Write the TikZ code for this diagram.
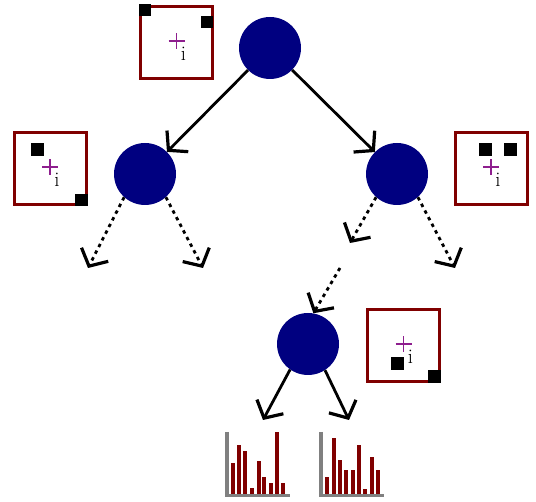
\documentclass[tikz,border=0pt]{standalone}
\usepackage{xcolor}
\usepackage{tikz}
\usetikzlibrary{arrows.meta}

\definecolor{navy}{HTML}{000080}
\definecolor{maroon}{HTML}{800000}
\definecolor{crosscol}{HTML}{8E1E8E}

\tikzset{
  tree node/.style = {circle, fill = navy, minimum size = 62pt, inner sep = 0pt},
  split box/.style = {draw = maroon, line width = 3pt, minimum size = 72pt, inner sep = 0pt},
  arr/.style = {line width = 2.8pt, -{Straight Barb[length = 13pt, width = 30pt, line width = 3.2pt]}},
  dotarr/.style = {arr, dash pattern = on 3.5pt off 4pt},
  cross/.style = {draw = crosscol, line width = 1.2pt},
  index/.style = {inner sep = 0pt, font = \huge},
  axis/.style = {draw = gray, line width = 3.2pt},
  bar/.style = {draw = maroon, line width = 3.4pt}
}

\begin{document}
\begin{tikzpicture}[x = 1pt, y = -1pt]
\useasboundingbox (0, 0) rectangle (536, 502);

% tree nodes
\node [tree node] (root) at (270, 48) {};
\node [tree node] (lchild) at (145, 174) {};
\node [tree node] (rchild) at (397, 174) {};
\node [tree node] (bchild) at (308, 344) {};

\draw [arr] (root) -- (lchild);
\draw [arr] (root) -- (rchild);

% open branches
\coordinate (ll) at (88, 268);
\coordinate (lr) at (203, 268);
\coordinate (rl) at (350, 243);
\coordinate (rr) at (455, 268);
\coordinate (mid) at (340, 268);
\draw [dotarr] (lchild.228) -- (ll);
\draw [dotarr] (lchild.312) -- (lr);
\draw [dotarr] (rchild.228) -- (rl);
\draw [dotarr] (rchild.312) -- (rr);
\draw [dotarr] (mid) -- (bchild.80);

% leaves
\coordinate (bl) at (263, 420);
\coordinate (br) at (349, 420);
\draw [arr] (bchild.235) -- (bl);
\draw [arr] (bchild.303) -- (br);

% split boxes
\node [split box] (box1) at (176.5, 42.5) {};
\node [split box] (box2) at (50, 168.5) {};
\node [split box] (box3) at (491, 168.5) {};
\node [split box] (box4) at (403.5, 345.5) {};

\foreach \b in {box1, box2, box3, box4} {
  \draw [cross] ([shift = {(-8pt, 1.5pt)}]\b.center) -- ([shift = {(8pt, 1.5pt)}]\b.center)
                ([shift = {(0pt, -6.5pt)}]\b.center) -- ([shift = {(0pt, 9.5pt)}]\b.center);
  \node [index] (\b-i) at ([shift = {(7pt, -11pt)}]\b.center) {i};
}

\fill (139, 4) rectangle (151, 16);
\fill (201, 16) rectangle (213, 28);
\fill (31, 143) rectangle (44, 156);
\fill (75, 194) rectangle (88, 206);
\fill (479, 143) rectangle (492, 156);
\fill (504, 143) rectangle (517, 156);
\fill (391, 357) rectangle (404, 370);
\fill (428, 370) rectangle (441, 383);

% histograms
\foreach \x/\t in {233/463, 239/445, 245/451, 252/488, 259/461, 264/477, 271/483, 277/432, 283/483}
  \draw [bar] (\x, 494) -- (\x, \t);
\foreach \x/\t in {327/477, 334/438, 340/460, 346/470, 353/470, 359/445, 365/489, 372/457, 378/470}
  \draw [bar] (\x, 494) -- (\x, \t);
\draw [axis] (227, 432) -- (227, 495.5) -- (290, 495.5);
\draw [axis] (321, 432) -- (321, 495.5) -- (384, 495.5);
\end{tikzpicture}
\end{document}
